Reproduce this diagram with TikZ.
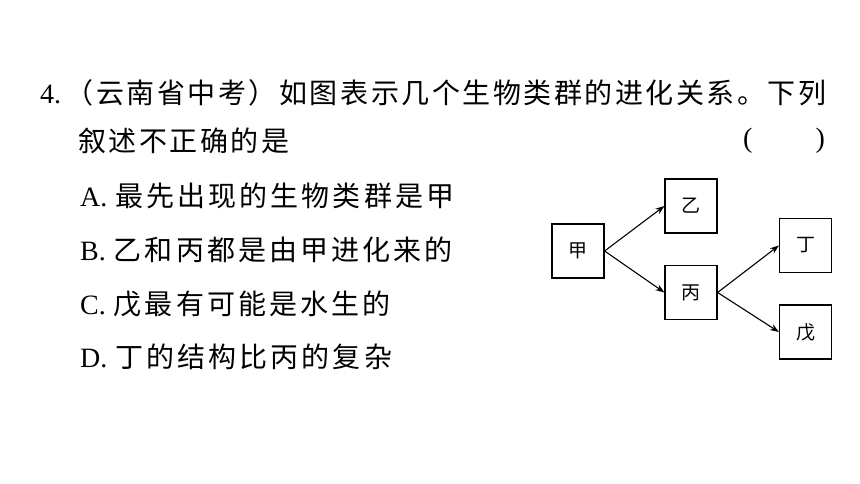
\documentclass[tikz,border=0pt]{standalone}
\usepackage{fontspec}
\setmainfont{Liberation Serif}
\newfontfamily\cjk{Noto Sans CJK SC}
\usetikzlibrary{arrows.meta}
\tikzset{
  txt/.style={anchor=west, inner sep=0pt, font=\fontsize{28}{28}\selectfont},
  species/.style={draw, line width=1.2pt, minimum width=52pt, minimum height=54pt,
    inner sep=0pt, font=\cjk\fontsize{19}{19}\selectfont},
  evolve/.style={-{Stealth[length=9pt,width=6.5pt]}, line width=1.1pt}
}
\newcommand{\qline}[1]{{\cjk\addfontfeature{LetterSpace=9}#1}}
\newcommand{\optline}[1]{{\cjk\addfontfeature{LetterSpace=11}#1}}
\begin{document}
\begin{tikzpicture}[x=1pt,y=-1pt]
  \useasboundingbox (0,0) rectangle (860,484);
  % question
  \node[txt] (q1) at (40,93) {4.\,\qline{（云南省中考）如图表示几个生物类群的进化关系。下列}};
  \node[txt] (q2) at (78,141) {\qline{叙述不正确的是}};
  \node[txt] (blank) at (743,141) {(\hspace{63pt})};
  % options
  \node[txt] (optA) at (80,196) {A.\hspace{8pt}\optline{最先出现的生物类群是甲}};
  \node[txt] (optB) at (80,250) {B.\hspace{8pt}\optline{乙和丙都是由甲进化来的}};
  \node[txt] (optC) at (80,304) {C.\hspace{8pt}\optline{戊最有可能是水生的}};
  \node[txt] (optD) at (80,357) {D.\hspace{8pt}\optline{丁的结构比丙的复杂}};
  % evolution tree
  \node[species] (jia) at (578,251) {甲};
  \node[species] (yi) at (691,206) {乙};
  \node[species] (bing) at (691,292.5) {丙};
  \node[species] (ding) at (805.5,245.5) {丁};
  \node[species] (wu) at (805.5,332) {戊};
  \draw[evolve] (jia.east) -- (yi.west);
  \draw[evolve] (jia.east) -- (bing.west);
  \draw[evolve] (bing.east) -- (ding.west);
  \draw[evolve] (bing.east) -- (wu.west);
\end{tikzpicture}
\end{document}
